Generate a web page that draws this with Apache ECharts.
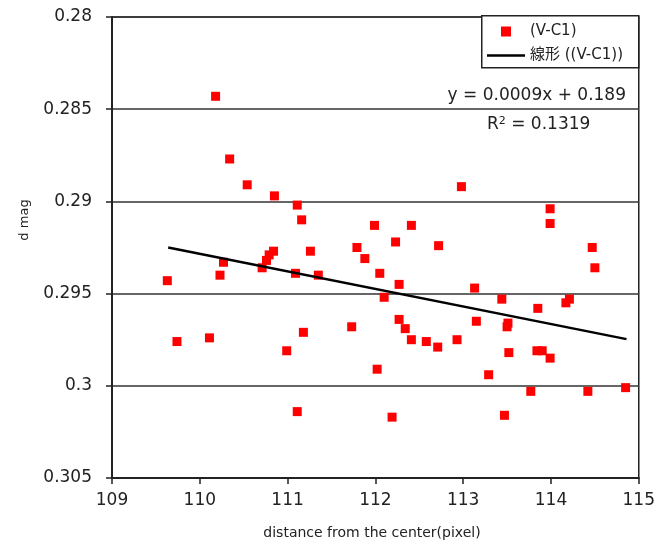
<!DOCTYPE html>
<html>
<head>
<meta charset="utf-8">
<script src="https://cdn.jsdelivr.net/npm/echarts@6/dist/echarts.min.js"></script>
<style>html,body{margin:0;padding:0;background:#fff;}#c{width:658px;height:542px;}</style>
</head>
<body>
<div id="c"></div>
<script>
// distance from the center (pixel)
const xValues = [109.63,109.74,110.11,110.18,110.23,110.27,110.34,110.54,110.71,110.76,
  110.79,110.84,110.85,110.99,111.09,111.11,111.11,111.16,111.18,111.26,
  111.35,111.73,111.79,111.88,111.99,112.02,112.05,112.10,112.19,112.23,
  112.27,112.27,112.34,112.41,112.41,112.58,112.71,112.72,112.93,112.98,
  113.13,113.15,113.29,113.44,113.47,113.50,113.51,113.52,113.77,113.84,
  113.85,113.90,113.99,113.99,113.99,114.17,114.21,114.42,114.47,114.50,114.85];
// d mag
const yValues = [0.2943,0.2976,0.2974,0.2843,0.2940,0.2933,0.2877,0.2891,0.2936,0.2932,
  0.2929,0.2927,0.2897,0.2981,0.2939,0.2902,0.3014,0.2910,0.2971,0.2927,
  0.2940,0.2968,0.2925,0.2931,0.2913,0.2991,0.2939,0.2952,0.3017,0.2922,
  0.2945,0.2964,0.2969,0.2913,0.2975,0.2976,0.2979,0.2924,0.2975,0.2892,
  0.2947,0.2965,0.2994,0.2953,0.3016,0.2968,0.2966,0.2982,0.3003,0.2981,
  0.2958,0.2981,0.2904,0.2912,0.2985,0.2955,0.2953,0.3003,0.2925,0.2936,0.3001];
// linear trend line end points
const trendX = [109.64, 114.86];
const trendY = [0.2925, 0.29747];
const xTickLabels = ['109','110','111','112','113','114','115'];
const yTickLabels = ['0.28','0.285','0.29','0.295','0.3','0.305'];
const seriesName = '(V-C1)';
const trendName = '線形 ((V-C1))';
const equationText = 'y = 0.0009x + 0.189';
const r2Value = '0.1319';

const FONT = '"DejaVu Sans", sans-serif';
const CJK = '"DejaVu Sans", "Noto Sans CJK JP", sans-serif';
const TXT = '#222';

const chart = echarts.init(document.getElementById('c'), null, {renderer: 'canvas'});
chart.setOption({
  animation: false,
  backgroundColor: '#fff',
  grid: {left: 112, right: 18, top: 17, bottom: 64, show: true, borderColor: '#222', borderWidth: 1.5, backgroundColor: 'transparent'},
  xAxis: {
    type: 'value', min: 109, max: 115, interval: 1,
    axisLine: {show: true, lineStyle: {color: '#222', width: 2}},
    axisTick: {show: true, inside: false, length: 6, lineStyle: {color: '#222', width: 1.5}},
    axisLabel: {margin: 14, color: TXT, fontFamily: FONT, fontSize: 17,
      formatter: (v) => xTickLabels[Math.round(v - 109)]},
    splitLine: {show: false}
  },
  yAxis: {
    type: 'value', inverse: true, min: 0.28, max: 0.305, interval: 0.005,
    axisLine: {show: true, lineStyle: {color: '#222', width: 2}},
    axisTick: {show: true, inside: false, length: 6, lineStyle: {color: '#222', width: 1.5}},
    axisLabel: {margin: 20, color: TXT, fontFamily: FONT, fontSize: 17,
      formatter: (v) => yTickLabels[Math.round((v - 0.28) / 0.005)]},
    splitLine: {show: true, lineStyle: {color: '#333', width: 1.5}}
  },
  legend: [
    {data: [{name: seriesName, icon: 'rect'}], left: 501, top: 24, itemWidth: 10, itemHeight: 10,
      padding: 0, z: 10, selectedMode: false,
      textStyle: {color: TXT, fontFamily: CJK, fontSize: 15, padding: [0, 0, 0, 14]}},
    {data: [{name: trendName, icon: 'rect', itemStyle: {color: '#000'}}], left: 487, top: 48, itemWidth: 38, itemHeight: 2.5,
      padding: 0, z: 10, selectedMode: false,
      textStyle: {color: TXT, fontFamily: CJK, fontSize: 15, padding: [0, 0, 0, 0]}}
  ],
  graphic: [
    {type: 'rect', left: 481, top: 15, z: 5, shape: {width: 157, height: 52},
      style: {fill: '#fff', stroke: '#222', lineWidth: 1.5}},
    {type: 'text', z: 6, x: 626, y: 96,
      style: {text: equationText, font: '17px ' + FONT, fill: TXT, align: 'right', verticalAlign: 'middle'}},
    {type: 'text', z: 6, x: 487, y: 125,
      style: {text: 'R{s|2} = ' + r2Value, font: '17px ' + FONT, fill: TXT, align: 'left', verticalAlign: 'middle',
        rich: {s: {fontSize: 11, fontFamily: FONT, verticalAlign: 'top', padding: [0, 0, 8, 0], fill: TXT}}}},
    {type: 'text', z: 6, x: 25, y: 220, rotation: Math.PI / 2,
      style: {text: 'd mag', font: '13px ' + FONT, fill: TXT, align: 'center', verticalAlign: 'middle'}},
    {type: 'text', z: 6, x: 372, y: 533,
      style: {text: 'distance from the center(pixel)', font: '14px ' + FONT, fill: TXT, align: 'center', verticalAlign: 'middle'}}
  ],
  series: [
    {name: seriesName, type: 'scatter', symbol: 'rect', symbolSize: 9, z: 2,
      itemStyle: {color: '#ff0000', opacity: 1},
      data: xValues.map((x, i) => [x, yValues[i]])},
    {name: trendName, type: 'line', symbol: 'none', showSymbol: false, z: 3,
      lineStyle: {color: '#000', width: 2.5}, itemStyle: {color: '#000'},
      data: trendX.map((x, i) => [x, trendY[i]])}
  ]
});
</script>
</body>
</html>
